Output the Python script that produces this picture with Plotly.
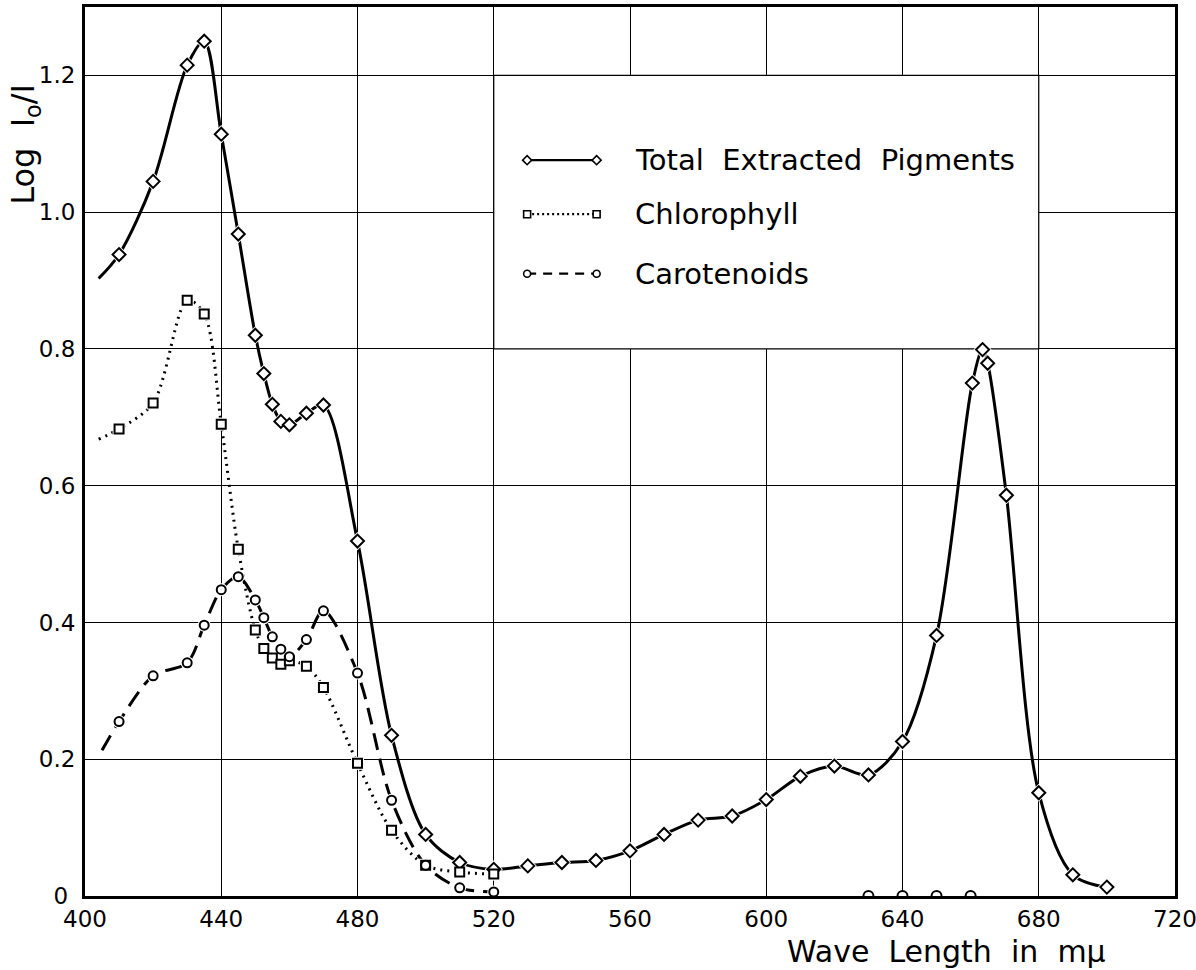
import plotly.graph_objects as go

# Absorption spectra (log I0/I) against wavelength in millimicrons.
# The first entry of each curve is where the drawn line starts; it carries no marker.
total_wl = [404, 410, 420, 430, 435, 440, 445, 450, 452.5, 455, 457.5, 460, 465, 470,
            480, 490, 500, 510, 520, 530, 540, 550,
            560, 570, 580, 590, 600, 610, 620, 630, 640, 650,
            660.5, 663.5, 665, 670.5, 680, 690, 700]
total_od = [0.903, 0.938, 1.045, 1.215, 1.250, 1.114, 0.968, 0.820, 0.764, 0.719, 0.694, 0.689, 0.706, 0.718,
            0.519, 0.235, 0.090, 0.049, 0.039, 0.044, 0.049, 0.052,
            0.066, 0.090, 0.111, 0.117, 0.141, 0.175, 0.190, 0.177, 0.226, 0.381,
            0.750, 0.799, 0.779, 0.586, 0.151, 0.031, 0.013]

chl_wl = [404, 410, 420, 430, 435, 440, 445, 450, 452.5, 455, 457.5, 460, 465, 470,
          480, 490, 500, 510, 520]
chl_od = [0.668, 0.683, 0.721, 0.871, 0.851, 0.690, 0.507, 0.389, 0.362, 0.348, 0.339, 0.344, 0.336, 0.305,
          0.194, 0.096, 0.045, 0.035, 0.032]

car_wl = [405, 410, 420, 430, 435, 440, 445, 450, 452.5, 455, 457.5, 460, 465, 470,
          480, 490, 500, 510, 520]
car_od = [0.213, 0.255, 0.322, 0.341, 0.396, 0.448, 0.467, 0.433, 0.407, 0.379, 0.361, 0.350, 0.375, 0.417,
          0.326, 0.140, 0.045, 0.012, 0.006]

# carotenoid readings at zero absorption in the red
car_zero_wl = [630, 640, 650, 660]
car_zero_od = [0, 0, 0, 0]

series_names = ["Total Extracted Pigments", "Chlorophyll", "Carotenoids"]

wl_ticks = [400, 440, 480, 520, 560, 600, 640, 680, 720]
od_ticks = [0, 0.2, 0.4, 0.6, 0.8, 1.0, 1.2]
od_labels = ["0\u00a0", "0.2", "0.4", "0.6", "0.8", "1.0", "1.2"]

FONT = "DejaVu Sans"
INK = "black"

fig = go.Figure()

curves = [
    dict(x=total_wl, y=total_od, dash="solid", width=3, symbol="diamond", size=10),
    dict(x=chl_wl, y=chl_od, dash="2px,5px", width=3, symbol="square", size=9),
    dict(x=car_wl, y=car_od, dash="17px,9px", width=3, symbol="circle", size=9),
]

# smooth curves
for c in curves:
    fig.add_trace(go.Scatter(
        x=c["x"], y=c["y"], mode="lines",
        line=dict(color=INK, width=c["width"], dash=c["dash"], shape="spline", smoothing=0.9),
        hoverinfo="skip", showlegend=False))

# white halo behind each marker so the curve breaks around it
for c in curves:
    fig.add_trace(go.Scatter(
        x=c["x"][1:], y=c["y"][1:], mode="markers",
        marker=dict(symbol=c["symbol"], size=c["size"] + 4, color="white", line=dict(width=0)),
        hoverinfo="skip", showlegend=False))

fig.add_trace(go.Scatter(
    x=car_zero_wl, y=car_zero_od, mode="markers", cliponaxis=True,
    marker=dict(symbol="circle", size=10, color="white", line=dict(color=INK, width=2)),
    showlegend=False))

for c, name in zip(curves, series_names):
    fig.add_trace(go.Scatter(
        x=c["x"][1:], y=c["y"][1:], mode="markers", name=name,
        marker=dict(symbol=c["symbol"], size=c["size"], color="white", line=dict(color=INK, width=2)),
        showlegend=False))

# legend panel: blank grid cells with keys and labels
key_rows = [1.076, 0.997, 0.910]
key_x = [529.8, 550.2]
key_styles = [
    dict(dash="solid", symbol="diamond"),
    dict(dash="2px,3px", symbol="square"),
    dict(dash="9px,7px", symbol="circle"),
]
for yk, st, name in zip(key_rows, key_styles, series_names):
    fig.add_trace(go.Scatter(
        x=key_x, y=[yk, yk], mode="lines+markers",
        line=dict(color=INK, width=2.2, dash=st["dash"]),
        marker=dict(symbol=st["symbol"], size=7, color="white", line=dict(color=INK, width=1.6)),
        hoverinfo="skip", showlegend=False))
    fig.add_annotation(x=561, y=yk, xref="x", yref="y", text=name.replace(" ", "\u00a0\u00a0"),
                       showarrow=False, xanchor="left", yanchor="middle",
                       font=dict(family=FONT, size=29, color=INK))

fig.add_shape(type="rect", x0=520, x1=680, y0=0.8, y1=1.2, xref="x", yref="y",
              fillcolor="white", line=dict(color=INK, width=1.2), layer="between")

# axis titles
fig.add_annotation(x=-0.055, y=0.845, xref="paper", yref="paper",
                   text="Log\u00a0\u00a0I<sub>o</sub>/I", textangle=-90, showarrow=False,
                   xanchor="center", yanchor="middle",
                   font=dict(family=FONT, size=32, color=INK))
fig.add_annotation(x=0.79, y=-0.062, xref="paper", yref="paper",
                   text="Wave\u00a0\u00a0Length\u00a0\u00a0in\u00a0\u00a0m\u03bc", showarrow=False,
                   xanchor="center", yanchor="middle",
                   font=dict(family=FONT, size=30, color=INK))

axis_common = dict(showgrid=True, gridcolor=INK, gridwidth=1.2, showline=True, linecolor=INK,
                   linewidth=3, mirror=True, ticks="", zeroline=False, automargin=False,
                   tickfont=dict(family=FONT, size=23, color=INK))
fig.update_xaxes(range=[400, 720], tickvals=wl_ticks, ticktext=[str(t) for t in wl_ticks],
                 ticklabelstandoff=0, ticklabeloverflow="allow", **axis_common)
fig.update_yaxes(range=[0, 1.3], tickvals=od_ticks, ticktext=od_labels,
                 ticklabelstandoff=2, **axis_common)

fig.update_layout(
    width=1196, height=970,
    margin=dict(l=85, r=21, t=7, b=74),
    paper_bgcolor="white", plot_bgcolor="white",
    showlegend=False,
    font=dict(family=FONT, color=INK),
)

fig.write_html("out.html")
